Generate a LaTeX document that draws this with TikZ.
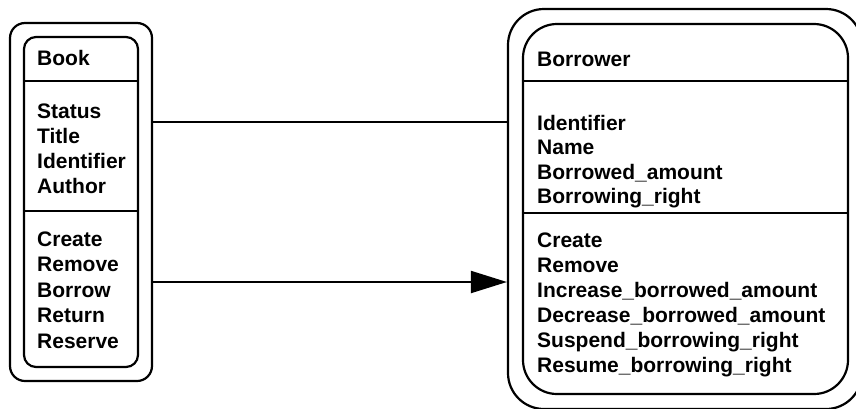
\documentclass[tikz,border=0pt]{standalone}
\usepackage{fontspec}
\setmainfont{Liberation Sans}
\usetikzlibrary{arrows.meta}
\begin{document}
\begin{tikzpicture}[x=1pt,y=-1pt,
  box/.style={draw, line width=2.2pt, inner sep=0pt},
  sepline/.style={line width=2pt},
  conn/.style={line width=2pt},
  lbl/.style={anchor=base west, inner sep=0pt, font=\fontsize{21}{25}\selectfont\bfseries}]
\useasboundingbox (0,0) rectangle (856,408);
\clip (0,0) rectangle (856,408);
% Book
\node[box, rounded corners=15pt, minimum width=142pt, minimum height=358pt] (bookouter) at (81,202) {};
\node[box, rounded corners=12pt, minimum width=114pt, minimum height=330pt] (bookinner) at (81,202) {};
\draw[sepline] (bookinner.west |- 0,81) -- (bookinner.east |- 0,81);
\draw[sepline] (bookinner.west |- 0,211) -- (bookinner.east |- 0,211);
\node[lbl] (bkname) at (37,65) {Book};
\foreach \t [count=\i] in {Status,Title,Identifier,Author}
  \node[lbl] (bka\i) at (37,118+25*\i-25) {\t};
\foreach \t [count=\i] in {Create,Remove,Borrow,Return,Reserve}
  \node[lbl] (bkm\i) at (37,246+25.5*\i-25.5) {\t};
% Borrower
\node[box, rounded corners=36pt, minimum width=354pt, minimum height=400pt] (brouter) at (685,209) {};
\node[box, rounded corners=34pt, minimum width=325pt, minimum height=370pt] (brinner) at (685.5,209) {};
\draw[sepline] (brinner.west |- 0,81) -- (brinner.east |- 0,81);
\draw[sepline] (brinner.west |- 0,213) -- (brinner.east |- 0,213);
\node[lbl] (brname) at (537,66) {Borrower};
\foreach \t [count=\i] in {Identifier,Name,Borrowed\_amount,Borrowing\_right}
  \node[lbl] (bra\i) at (537,130+24.5*\i-24.5) {\t};
\foreach \t [count=\i] in {Create,Remove,Increase\_borrowed\_amount,Decrease\_borrowed\_amount,Suspend\_borrowing\_right,Resume\_borrowing\_right}
  \node[lbl] (brm\i) at (537,247+25*\i-25) {\t};
% connectors
\draw[conn] (bookouter.east |- 0,122) -- (brouter.west |- 0,122);
\draw[conn, -{Triangle[length=36pt,width=22pt]}] (bookouter.east |- 0,282) -- (brouter.west |- 0,282);
\end{tikzpicture}
\end{document}
